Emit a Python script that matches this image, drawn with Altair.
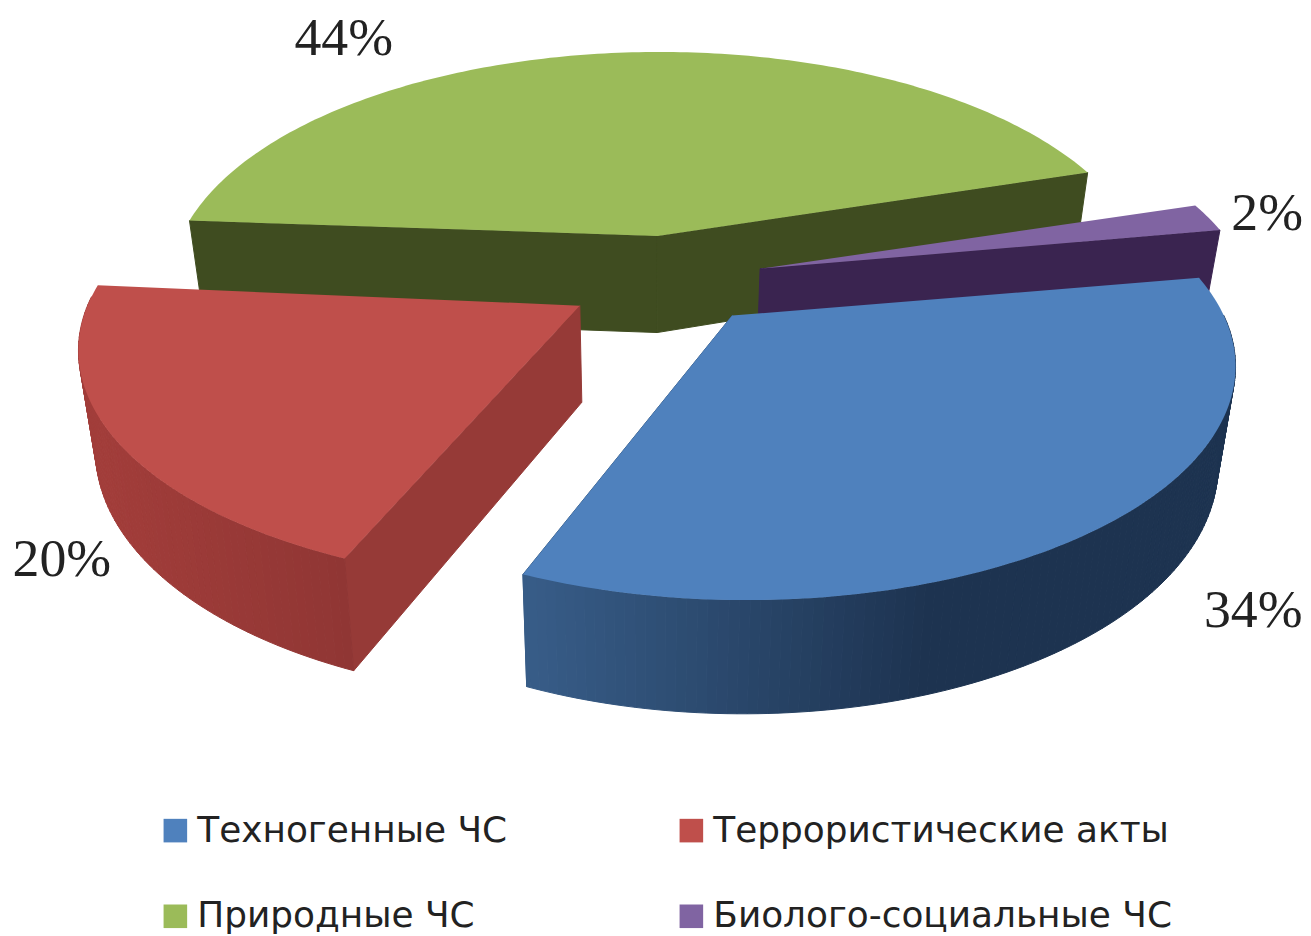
import numpy as np
import pandas as pd
import altair as alt

# --- values ---
names = ["Техногенные ЧС", "Террористические акты", "Природные ЧС", "Биолого-социальные ЧС"]
shares = [34, 20, 44, 2]
percent_labels = ["34%", "20%", "44%", "2%"]

# --- styles ---
top_colors = ["#4F81BD", "#BF4F4B", "#9BBB59", "#8064A2"]
wall_left = ["#375C87", "#A23D3A", "#3F4C20", "#3A2450"]
wall_right = ["#1D3350", "#903634", "#3F4C20", "#3A2450"]
face_colors = ["#375C87", "#963A37", "#3F4C20", "#3A2450"]
shade_span = [(540, 400), (100, 250), (0, 1), (0, 1)]

# --- layout of the tilted, exploded pie (frame = page pixels) ---
apex = [(735, 315), (582, 305), (660, 235), (763, 268)]
arc_shift = [(14, 1), (-12, -5), (2, 0), (7, 0)]
label_xy = [(1258, 612), (62, 560), (345, 37), (1272, 213)]
START_DEG = -10.4
R = 480.0
A = 224.0
K = 0.213
DEPTH = 97.0
DEPTH_K = 0.15
SHRINK = 0.97
SHRINK_X = 650.0
draw_order = [2, 3, 0, 1]
visible_faces = [(1,), (0,), (0, 1), (1,)]


def top_point(i, deg):
    t = np.radians(deg)
    u, v = np.cos(t), np.sin(t)
    w = 1 - K * v
    return apex[i][0] + arc_shift[i][0] + R * u / w, apex[i][1] + arc_shift[i][1] + A * v / w, v


def bottom_point(x, y, v):
    return SHRINK_X + (x - SHRINK_X) * SHRINK, y + DEPTH / (1 - DEPTH_K * v)


def mix(c1, c2, f):
    a = [int(c1[j:j + 2], 16) for j in (1, 3, 5)]
    b = [int(c2[j:j + 2], 16) for j in (1, 3, 5)]
    return "#%02x%02x%02x" % tuple(int(round(p + (q - p) * f)) for p, q in zip(a, b))


edges = np.cumsum([0] + shares) / sum(shares) * 360 + START_DEG

wall_rows, top_rows = [], []
poly = 0


def add_poly(points, color):
    global poly
    closed = list(points) + [points[0]]
    for s, (x, y) in enumerate(closed):
        wall_rows.append({"poly": poly, "seq": s, "x": x, "y": y, "shade": color})
    poly += 1


for i in draw_order:
    a0, a1 = edges[i], edges[i + 1]
    degs = np.arange(a0, a1, 1.0).tolist() + [a1]
    ax, ay = apex[i]
    abx, aby = bottom_point(ax, ay, 0.0)
    # cut faces that look towards the viewer
    for which in visible_faces[i]:
        x, y, v = top_point(i, (a0, a1)[which])
        bx, by = bottom_point(x, y, v)
        add_poly([(ax, ay), (x, y), (bx, by), (abx, aby)], face_colors[i])
    # outer wall, shaded along the arc (the back of it is hidden)
    for d0, d1 in zip(degs[:-1], degs[1:]):
        if np.sin(np.radians(d0)) < 0 and np.sin(np.radians(d1)) < 0:
            continue
        x0, y0, v0 = top_point(i, d0)
        x1, y1, v1 = top_point(i, d1)
        b0 = bottom_point(x0, y0, v0)
        b1 = bottom_point(x1, y1, v1)
        f = min(max((x0 - shade_span[i][0]) / shade_span[i][1], 0), 1)
        add_poly([(x0, y0), (x1, y1), b1, b0], mix(wall_left[i], wall_right[i], f))
    # top of slice
    pts = [(ax, ay)] + [top_point(i, d)[:2] for d in degs]
    for s, (x, y) in enumerate(pts):
        top_rows.append({"name": names[i], "seq": s, "x": x, "y": y})

x_scale = alt.Scale(domain=[8, 1303], nice=False, zero=False)
y_scale = alt.Scale(domain=[928, 8], nice=False, zero=False)
X = alt.X("x:Q", scale=x_scale, axis=None)
Y = alt.Y("y:Q", scale=y_scale, axis=None)

walls = alt.Chart(pd.DataFrame(wall_rows)).mark_line(strokeWidth=1, strokeJoin="round").encode(
    x=X, y=Y,
    detail="poly:N",
    order="seq:Q",
    fill=alt.Fill("shade:N", scale=None),
    stroke=alt.Stroke("shade:N", scale=None),
)

tops = alt.Chart(pd.DataFrame(top_rows)).mark_line(strokeWidth=0).encode(
    x=X, y=Y,
    order="seq:Q",
    fill=alt.Fill(
        "name:N",
        scale=alt.Scale(domain=names, range=top_colors),
        legend=alt.Legend(
            title=None,
            orient="none",
            legendX=150,
            legendY=806,
            direction="horizontal",
            columns=2,
            symbolType="square",
            symbolSize=560,
            symbolStrokeWidth=0,
            symbolOpacity=1,
            labelFont="DejaVu Sans",
            labelFontSize=36,
            labelColor="#222222",
            labelLimit=700,
            labelOffset=4,
            rowPadding=50,
            columnPadding=167,
        ),
    ),
)

label_df = pd.DataFrame({
    "text": percent_labels,
    "x": [p[0] for p in label_xy],
    "y": [p[1] for p in label_xy],
})
labels = alt.Chart(label_df).mark_text(
    font="Liberation Serif", fontSize=54, color="#222222", align="center", baseline="middle"
).encode(x=X, y=Y, text="text:N")

chart = alt.layer(walls, tops, labels).properties(
    width=1295, height=920, padding=0, background="white"
).configure_view(stroke=None)

chart.save("out.html", embed_options={"renderer": "svg", "actions": False})
